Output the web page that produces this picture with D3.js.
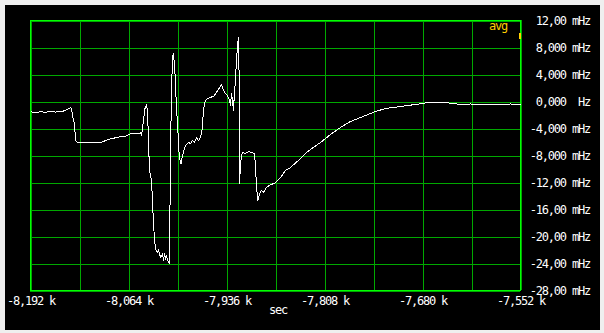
<!DOCTYPE html>
<html>
<head>
<meta charset="utf-8">
<script src="https://cdn.jsdelivr.net/npm/d3@7"></script>
<style>
  html, body { margin: 0; background: #efefef; }
  svg { display: block; }
</style>
</head>
<body>
<svg class="scope" width="604" height="333"></svg>
<script>
// trace samples: time (sec) and level (mHz)
const timeSec = [
  -8192, -8185.5, -8178.9, -8172.4, -8165.9, -8159.3, -8152.8, -8146.3, -8139.8, -8138.4,
  -8137.1, -8135.8, -8134.5, -8133.2, -8131.9, -8126.7, -8120.2, -8113.6, -8107.1, -8100.6,
  -8094.0, -8087.5, -8081.0, -8074.4, -8067.9, -8064.0, -8061.4, -8054.9, -8050.9, -8048.3,
  -8047.0, -8044.4, -8042.5, -8040.5, -8039.2, -8037.9, -8036.6, -8034.0, -8032.7, -8031.7,
  -8030.0, -8028.7, -8027.4, -8026.1, -8024.8, -8023.5, -8022.2, -8020.9, -8019.6, -8018.3,
  -8017.0, -8015.7, -8014.4, -8013.1, -8011.8, -8010.4, -8009.1, -8007.8, -8006.9, -8005.6,
  -8003.9, -8002.6, -8001.3, -8000.0, -7998.7, -7997.4, -7995.4, -7993.5, -7989.6, -7985.6,
  -7983.0, -7980.4, -7977.8, -7975.2, -7972.6, -7970.0, -7968.0, -7966.0, -7964.7, -7962.1,
  -7958.2, -7953.0, -7949.1, -7945.1, -7942.5, -7939.9, -7937.3, -7934.7, -7932.1, -7930.8,
  -7929.5, -7928.2, -7926.9, -7925.6, -7924.3, -7923.0, -7922.0, -7920.7, -7920.1, -7919.5,
  -7919.0, -7917.7, -7916.4, -7915.1, -7911.2, -7907.3, -7903.3, -7899.4, -7898.1, -7896.8,
  -7894.9, -7892.9, -7890.3, -7887.7, -7883.8, -7878.5, -7873.3, -7865.5, -7858.9, -7852.4,
  -7839.3, -7832.8, -7826.3, -7813.2, -7800.2, -7787.1, -7774.0, -7761.0, -7747.9, -7741.4,
  -7728.3, -7708.7, -7689.1, -7676.1, -7669.6, -7656.5, -7643.4, -7630.4, -7617.3, -7610.8,
  -7604.2, -7591.2, -7578.1, -7571.6, -7565.1, -7558.5, -7552.0
];
const levelMHz = [
  -1.53, -1.63, -1.53, -1.59, -1.44, -1.56, -1.53, -1.33, -0.93, -1.04,
  -2.07, -2.81, -3.26, -5.78, -6.00, -6.03, -6.07, -6.03, -6.12, -6.12,
  -5.78, -5.53, -5.38, -5.19, -5.14, -4.93, -4.79, -4.70, -4.70, -4.64,
  -5.04, -2.81, -1.04, -0.59, -1.33, -5.78, -10.22, -11.70, -14.67, -17.19,
  -20.59, -21.78, -22.22, -22.37, -22.07, -22.52, -23.11, -22.96, -22.52, -23.56,
  -22.52, -23.26, -22.96, -23.41, -23.85, -24.00, -5.78, 0.15, 5.63, 7.11,
  5.63, 2.67, -1.33, -2.81, -6.52, -8.30, -9.19, -8.00, -6.52, -6.07,
  -6.22, -5.78, -6.07, -5.33, -5.78, -5.33, -4.30, -1.33, -0.15, 0.30,
  0.59, 0.74, 1.33, 2.07, 2.52, 1.63, 1.19, 0.89, 0.15, -0.59,
  1.19, 0.15, -1.33, 1.33, 3.11, 6.07, 7.56, 9.33, 9.48, 3.11,
  -12.15, -9.48, -8.00, -7.56, -7.70, -7.41, -7.56, -7.70, -9.78, -12.74,
  -14.67, -13.63, -13.19, -13.48, -12.74, -12.30, -12.15, -11.26, -10.22, -9.78,
  -8.44, -7.70, -7.11, -6.07, -4.89, -3.85, -2.96, -2.37, -1.78, -1.48,
  -1.04, -0.74, -0.44, -0.22, -0.10, -0.10, -0.25, -0.44, -0.37, -0.40,
  -0.44, -0.44, -0.49, -0.52, -0.37, -0.44, -0.44
];

// tick labels
const xTicks = [-8192, -8064, -7936, -7808, -7680, -7552];
const xTickLabels = ["-8,192 k", "-8,064 k", "-7,936 k", "-7,808 k", "-7,680 k", "-7,552 k"];
const yTicks = [12, 8, 4, 0, -4, -8, -12, -16, -20, -24, -28];
const yTickLabels = ["12,00 mHz", "8,000 mHz", "4,000 mHz", "0,000  Hz", "-4,000 mHz",
  "-8,000 mHz", "-12,00 mHz", "-16,00 mHz", "-20,00 mHz", "-24,00 mHz", "-28,00 mHz"];
const xGrid = d3.range(-8192, -7551, 64);

const plot = {left: 30, top: 20, w: 490, h: 270};
const font = "DejaVu Sans Mono";

let svg = d3.select("svg.scope");

// black screen
svg.append("rect")
  .attr("x", 5).attr("y", 5)
  .attr("width", 595).attr("height", 325)
  .attr("fill", "#000");

let x = d3.scaleLinear().domain([-8192, -7552])
  .range([plot.left + 0.5, plot.left + plot.w + 0.5]);
let y = d3.scaleLinear().domain([12, -28])
  .range([plot.top + 0.5, plot.top + plot.h + 0.5]);

// grid
let gx = svg.append("g")
  .attr("transform", `translate(0,${plot.top + plot.h})`)
  .call(d3.axisBottom(x).tickValues(xGrid).tickSize(-plot.h).tickFormat(""));
let gy = svg.append("g")
  .attr("transform", `translate(${plot.left},0)`)
  .call(d3.axisLeft(y).tickValues(yTicks).tickSize(-plot.w).tickFormat(""));
[gx, gy].forEach(g => {
  g.select(".domain").remove();
  g.selectAll("line").attr("stroke", "#00a800").attr("shape-rendering", "crispEdges");
});

// frame
svg.append("rect")
  .attr("x", plot.left + 0.5).attr("y", plot.top + 0.5)
  .attr("width", plot.w).attr("height", plot.h)
  .attr("fill", "none").attr("stroke", "#00ff00")
  .attr("shape-rendering", "crispEdges");

function label(sel) {
  sel.attr("fill", "#fff")
    .attr("font-family", font).attr("font-size", 12)
    .attr("letter-spacing", "-1.2px");
}

// x labels
let xl = svg.append("g")
  .attr("transform", `translate(0,${plot.top + plot.h})`)
  .call(d3.axisBottom(x).tickValues(xTicks).tickSize(0)
    .tickFormat((d, i) => xTickLabels[i]));
xl.select(".domain").remove();
xl.selectAll("text")
  .attr("y", 15).attr("dy", null)
  .call(label);

// y labels
let yl = svg.append("g")
  .attr("transform", "translate(590,0)")
  .call(d3.axisRight(y).tickValues(yTicks).tickSize(0)
    .tickFormat((d, i) => yTickLabels[i]));
yl.select(".domain").remove();
yl.selectAll("text")
  .attr("x", 0).attr("dy", "0.36em")
  .attr("text-anchor", "end")
  .attr("xml:space", "preserve")
  .style("white-space", "pre")
  .call(label);

// units
svg.append("text")
  .attr("x", 278).attr("y", 314)
  .attr("text-anchor", "middle")
  .call(label)
  .text("sec");

// avg marker
svg.append("text")
  .attr("x", 507).attr("y", 30)
  .attr("text-anchor", "end")
  .call(label)
  .attr("fill", "#ffd000")
  .text("avg");
svg.append("rect")
  .attr("x", 519).attr("y", 33)
  .attr("width", 2).attr("height", 6)
  .attr("fill", "#ffd000");

// trace
let line = d3.line()
  .x((d, i) => x(timeSec[i]))
  .y(d => y(d));

svg.append("path")
  .datum(levelMHz)
  .attr("d", line)
  .attr("fill", "none")
  .attr("stroke", "#fff")
  .attr("stroke-width", 1)
  .attr("shape-rendering", "crispEdges");
</script>
</body>
</html>
